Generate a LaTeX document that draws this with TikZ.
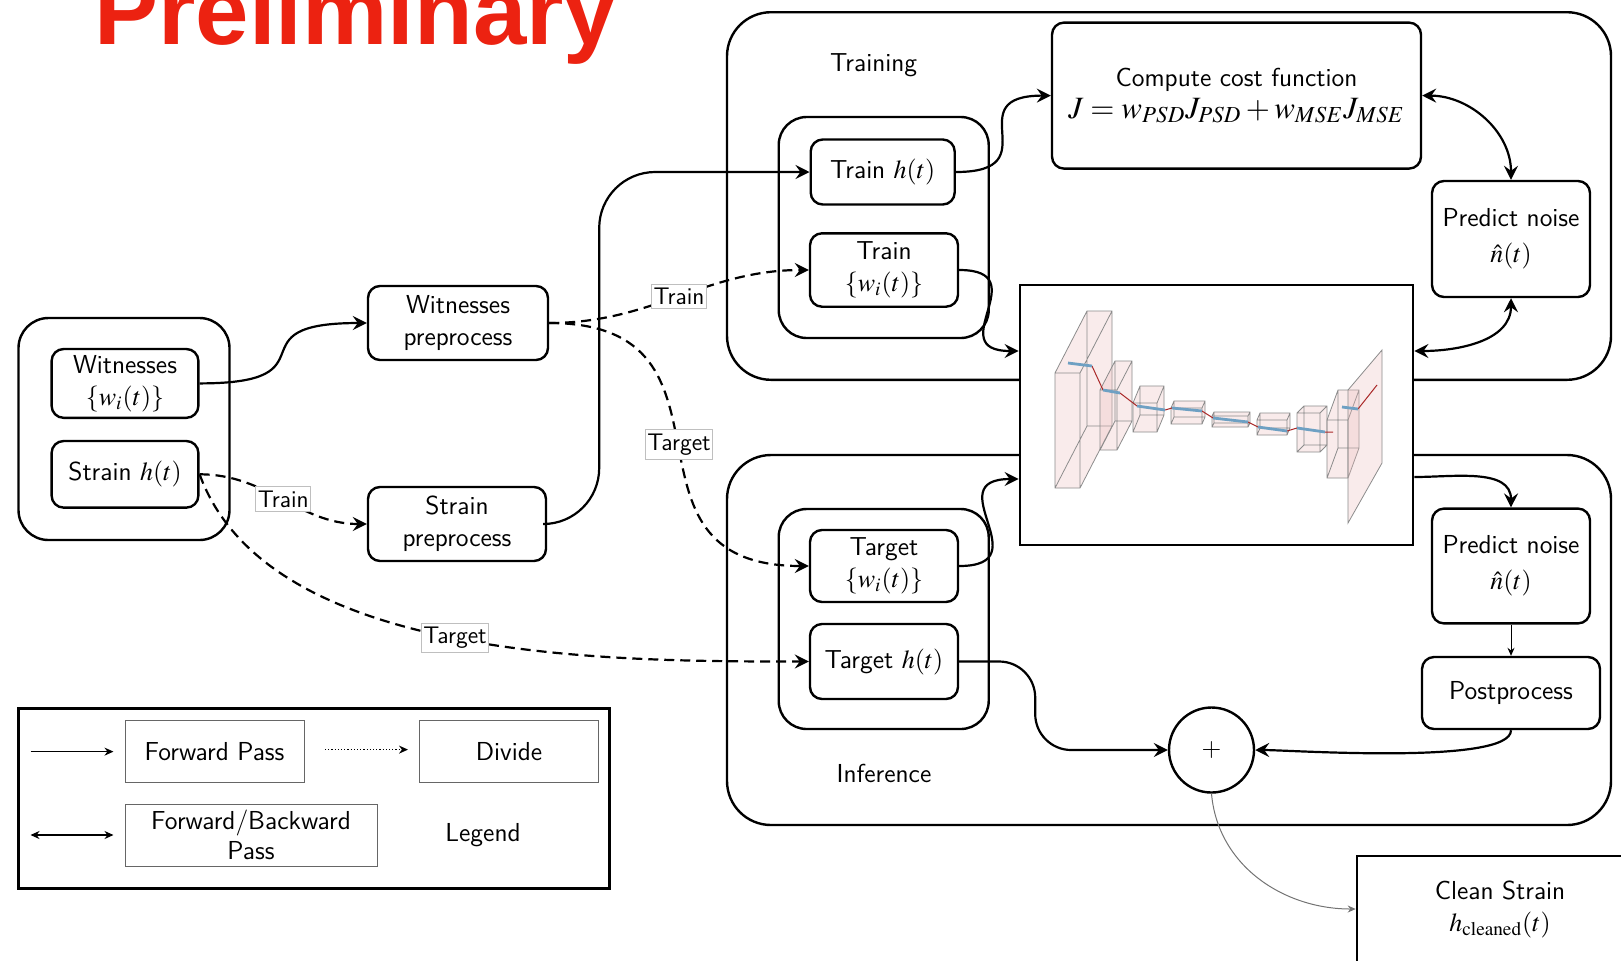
\documentclass[tikz,border=0pt]{standalone}
\usepackage{amsmath}
\usepackage{mathptmx}
\usepackage{fontspec}
\newfontfamily\titlefont{Liberation Sans}
\usepackage{tikz}
\usetikzlibrary{arrows.meta}

\definecolor{titlered}{RGB}{236,34,17}
\definecolor{slabpink}{RGB}{236,190,190}
\definecolor{barblue}{RGB}{110,160,195}
\definecolor{linkred}{RGB}{170,40,40}

\begin{document}
\begin{tikzpicture}[x=0.5pt,y=-0.5pt,
	>={Stealth[length=7pt,width=7pt,inset=2.5pt]},
	txt/.style={font=\sffamily\fontsize{13}{16}\selectfont},
	block/.style={txt, draw, line width=1.2pt, rounded corners=6pt, fill=white, align=center, inner sep=2pt},
	group/.style={draw, line width=1.2pt, rounded corners=14pt},
	stage/.style={draw, line width=1.2pt, rounded corners=22pt},
	flow/.style={->, line width=1.1pt},
	split/.style={->, line width=1.1pt, dash pattern=on 5pt off 3pt},
	both/.style={<->, line width=1.1pt},
	small/.style={-{Stealth[length=4pt,width=3.5pt]}, line width=0.5pt},
	tag/.style={solid, draw=black!25, line width=0.4pt, fill=white, inner xsep=1pt, inner ysep=2pt, font=\sffamily\fontsize{12}{14}\selectfont},
	keybox/.style={txt, draw=black!60, line width=0.5pt, align=center, minimum height=31pt},
	slab/.style={fill=slabpink, fill opacity=0.3, draw=black!45, line width=0.4pt}
	]
	\useasboundingbox (0,0) rectangle (1621,960);
	
	\node[anchor=base west, inner sep=0, text=titlered, font=\titlefont\bfseries\fontsize{48}{50}\selectfont] (head) at (94,44) {Preliminary};
	
	% raw data
	\node[group, rounded corners=15pt, minimum width=105.5pt, minimum height=111pt] (inputs) at (124,429) {};
	\node[block, minimum width=73.4pt, minimum height=34.4pt] (wit) at (125,383.4) {Witnesses\\$\{w_i(t)\}$};
	\node[block, minimum width=73.4pt, minimum height=33.3pt] (strain) at (125,474.3) {Strain $h(t)$};
	
	\node[block, minimum width=90pt, minimum height=37pt] (witpre) at (458,323) {Witnesses\\preprocess};
	\node[block, minimum width=89pt, minimum height=37pt] (strpre) at (457,524) {Strain\\preprocess};
	
	% training
	\node[stage, minimum width=442pt, minimum height=183.8pt] (training) at (1169,196) {};
	\node[txt] (trainlbl) at (873.6,65) {Training};
	\node[group, minimum width=105pt, minimum height=110.5pt] (traingrp) at (883.7,227.5) {};
	\node[block, minimum width=72pt, minimum height=32.5pt] (trainh) at (882.7,172) {Train $h(t)$};
	\node[block, minimum width=74pt, minimum height=36.7pt] (trainw) at (884,270) {Train\\$\{w_i(t)\}$};
	\node[block, minimum width=184.5pt, minimum height=73pt] (cost) at (1236.5,95.6) {Compute cost function\\{\fontsize{15.5}{16}\selectfont$J = w_{PSD}J_{PSD} + w_{MSE}J_{MSE}$}};
	\node[block, minimum width=79pt, minimum height=58pt] (noisetr) at (1511,239) {Predict noise\\[2pt]$\hat{n}(t)$};
	
	% inference
	\node[stage, minimum width=442pt, minimum height=185pt] (inference) at (1169,640) {};
	\node[txt] (inflbl) at (884,773) {Inference};
	\node[group, minimum width=105pt, minimum height=110pt] (infgrp) at (883.7,619) {};
	\node[block, minimum width=74pt, minimum height=36pt] (targw) at (884,566) {Target\\$\{w_i(t)\}$};
	\node[block, minimum width=74pt, minimum height=37.5pt] (targh) at (884,661.5) {Target $h(t)$};
	\node[block, minimum width=79pt, minimum height=57.4pt] (noiseinf) at (1511,566) {Predict noise\\[2pt]$\hat{n}(t)$};
	\node[block, minimum width=89pt, minimum height=36pt] (post) at (1511,693) {Postprocess};
	\node[txt, draw, circle, line width=1.2pt, fill=white, minimum size=42.5pt, inner sep=0] (sum) at (1211.5,750) {+};
	
	% network sketch
	\node[draw, fill=white, line width=1.4pt, minimum width=196.5pt, minimum height=130pt] (net) at (1216.5,415) {};
	\foreach \x/\y/\w/\h/\dx/\dy in {1055/373/25/115/32/-62, 1100/390/17/60/15/-29, 1133/403/24/29/7/-17, 1171/408/31/16/3/-7, 1212/416/36/11/2/-4, 1257/420/30/15/3/-7, 1297/413/23/39/7/-7, 1327/420/21/58/11/-30}{
		\fill[slab, draw=none] (\x,\y+\h) -- (\x,\y) -- (\x+\dx,\y+\dy) -- (\x+\w+\dx,\y+\dy) -- (\x+\w+\dx,\y+\h+\dy) -- (\x+\w,\y+\h) -- cycle;
		\draw[slab, fill=none] (\x,\y) rectangle ++(\w,\h) (\x+\dx,\y+\dy) rectangle ++(\w,\h)
			(\x,\y) -- ++(\dx,\dy) (\x+\w,\y) -- ++(\dx,\dy) (\x,\y+\h) -- ++(\dx,\dy) (\x+\w,\y+\h) -- ++(\dx,\dy);
	}
	\filldraw[slab] (1348,390) -- (1382,350) -- (1382,463) -- (1348,523) -- cycle;
	\draw[linkred, line width=0.5pt] (1092,366) -- (1103,390) (1120,393) -- (1137,406) (1165,410) -- (1172,408)
		(1202,411) -- (1213,418) (1248,422) -- (1258,427) (1287,431) -- (1297,428) (1325,432) -- (1333,432) (1358,409) -- (1377,385);
	\foreach \ax/\ay/\bx/\by in {1068/363/1092/366, 1103/390/1120/393, 1137/406/1165/410, 1172/408/1202/411, 1213/418/1248/422, 1258/427/1287/431, 1297/428/1325/432, 1342/407/1358/409}
		\draw[barblue, line width=1.4pt] (\ax,\ay) -- (\bx,\by);
	
	\node[txt, draw, line width=1.3pt, minimum width=143pt, minimum height=53pt, align=center] (clean) at (1500,909) {Clean Strain\\$h_{\mathrm{cleaned}}(t)$};
	
	% legend
	\node[draw, line width=1.5pt, minimum width=295.7pt, minimum height=90pt] (legend) at (314,798) {};
	\node[keybox, minimum width=89.5pt] (fwd) at (214.5,751.6) {Forward Pass};
	\node[keybox, minimum width=89.5pt] (div) at (509,751.6) {Divide};
	\node[keybox, minimum width=126pt, inner ysep=0pt, font=\sffamily\fontsize{13}{15}\selectfont] (fwdbwd) at (251,835) {Forward/Backward\\Pass};
	\node[txt] (legtxt) at (483,835) {Legend};
	\draw[-{Stealth[length=4.5pt,width=4pt]}, line width=0.6pt] ([xshift=-47pt]fwd.west) -- ([xshift=-5.5pt]fwd.west);
	\draw[-{Stealth[length=4.5pt,width=4pt]}, line width=0.6pt, densely dotted] ([xshift=-47pt,yshift=1pt]div.west) -- ([xshift=-5.5pt,yshift=1pt]div.west);
	\draw[{Stealth[length=4.5pt,width=4pt]}-{Stealth[length=4.5pt,width=4pt]}, line width=0.6pt] ([xshift=-47pt]fwdbwd.west) -- ([xshift=-5.5pt]fwdbwd.west);
	
	% connections
	\draw[flow] (wit.east) to[out=0,in=180,looseness=2] (witpre.west);
	\draw[split] (strain.east) to[out=0,in=180] node[tag] {Train} (strpre.west);
	\draw[split] (strain.east) to[out=-70,in=180,looseness=0.8] node[tag, pos=0.5] {Target} (targh.west);
	\draw[split] (witpre.east) to[out=0,in=180] node[tag] {Train} (trainw.west);
	\draw[split] (witpre.east) to[out=0,in=180,looseness=1.5] node[tag] {Target} (targw.west);
	\draw[flow, rounded corners=28pt] (strpre.east) -- ++(52,0) |- (trainh.west);
	\draw[flow] (trainh.east) to[out=0,in=180,looseness=2] (cost.west);
	\draw[flow] (trainw.east) to[out=0,in=180,looseness=2] ([yshift=32pt]net.west);
	\draw[flow] (targw.east) to[out=0,in=180,looseness=2] ([yshift=-32pt]net.west);
	\draw[both] (cost.east) to[out=0,in=90] (noisetr.north);
	\draw[both] ([yshift=32pt]net.east) to[out=0,in=-90] (noisetr.south);
	\draw[flow] ([yshift=-31pt]net.east) to[out=0,in=90] (noiseinf.north);
	\draw[small] (noiseinf.south) -- (post.north);
	\draw[flow, rounded corners=18pt] (targh.east) -- ++(76,0) |- (sum.west);
	\draw[flow] (post.south) to[out=-90,in=0,looseness=0.35] (sum.east);
	\draw[small, draw=black!55] (sum.south) to[out=-85,in=180] (clean.west);
	
\end{tikzpicture}
\end{document}
